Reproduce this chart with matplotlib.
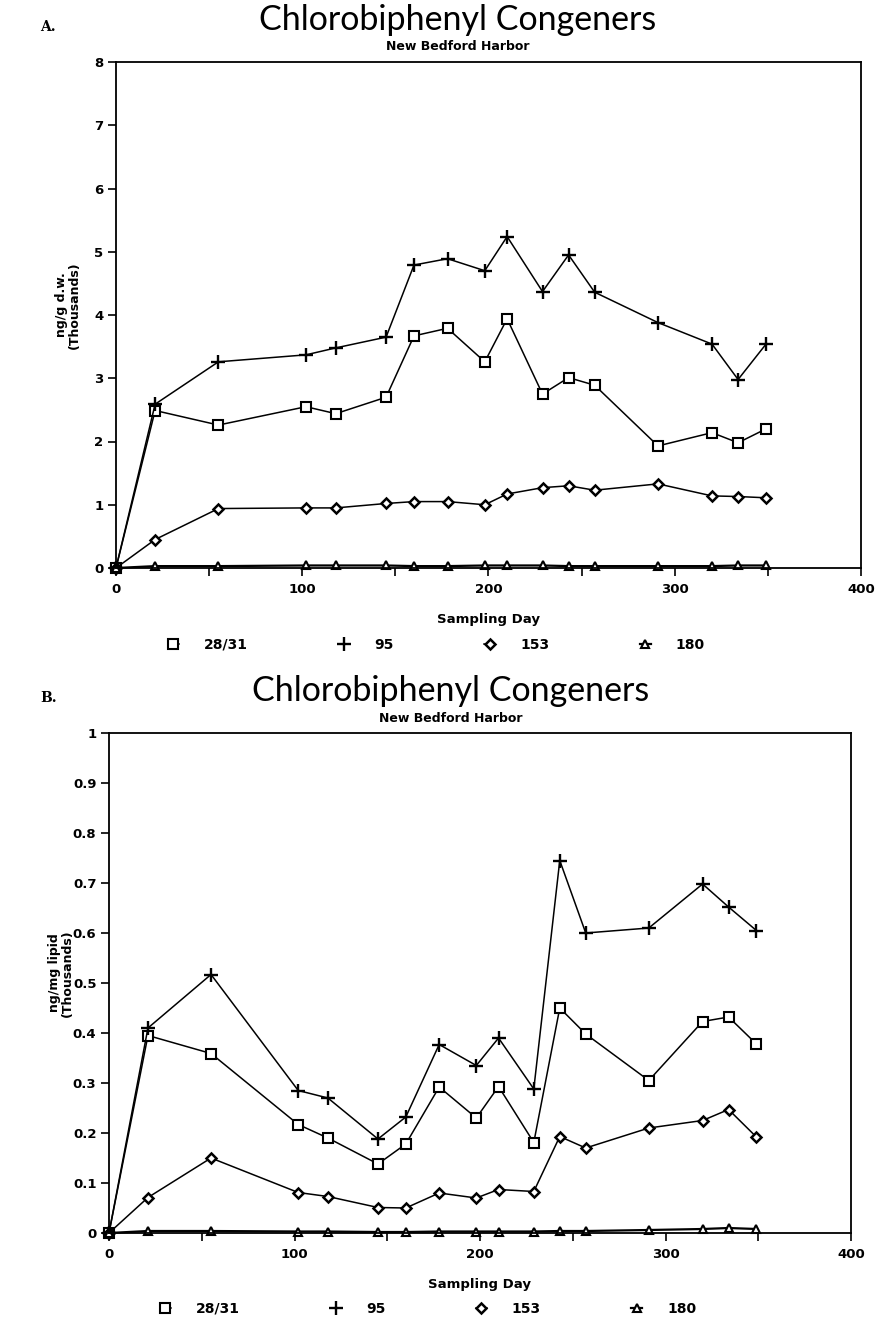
#!/usr/bin/env python3
"""
Chlorobiphenyl congener time series, New Bedford Harbor.

Two stacked panels:
  A. dry-weight concentration (ng/g d.w., thousands)
  B. lipid-normalised concentration (ng/mg lipid, thousands)
"""

import matplotlib
matplotlib.use("Agg")
import matplotlib.pyplot as plt
import matplotlib.ticker as mticker


# ── Data ──

SAMPLING_DAYS = [0, 21, 55, 102, 118, 145, 160, 178, 198, 210,
                 229, 243, 257, 291, 320, 334, 349]

CONGENERS = ["28/31", "95", "153", "180"]

# Panel A: ng/g d.w. (thousands)
A_28_31 = [0, 2.49, 2.26, 2.55, 2.44, 2.70, 3.67, 3.79, 3.26, 3.94,
           2.75, 3.01, 2.89, 1.93, 2.14, 1.98, 2.20]
A_95 = [0, 2.59, 3.26, 3.37, 3.48, 3.65, 4.79, 4.89, 4.70, 5.24,
        4.37, 4.95, 4.36, 3.88, 3.54, 2.98, 3.54]
A_153 = [0, 0.45, 0.94, 0.95, 0.95, 1.02, 1.05, 1.05, 1.00, 1.17,
         1.27, 1.30, 1.23, 1.33, 1.14, 1.13, 1.11]
A_180 = [0, 0.03, 0.03, 0.04, 0.04, 0.04, 0.03, 0.03, 0.04, 0.04,
         0.04, 0.03, 0.03, 0.03, 0.03, 0.04, 0.04]

# Panel B: ng/mg lipid (thousands)
B_28_31 = [0, 0.395, 0.359, 0.217, 0.190, 0.138, 0.178, 0.292, 0.230, 0.293,
           0.181, 0.450, 0.398, 0.305, 0.423, 0.432, 0.378]
B_95 = [0, 0.410, 0.517, 0.285, 0.270, 0.188, 0.232, 0.377, 0.335, 0.390,
        0.288, 0.745, 0.600, 0.610, 0.698, 0.652, 0.605]
B_153 = [0, 0.071, 0.150, 0.081, 0.073, 0.051, 0.050, 0.080, 0.070, 0.087,
         0.083, 0.193, 0.170, 0.210, 0.225, 0.247, 0.192]
B_180 = [0, 0.004, 0.004, 0.003, 0.003, 0.002, 0.002, 0.003, 0.003, 0.003,
         0.003, 0.004, 0.004, 0.006, 0.008, 0.010, 0.008]

A_YTICKS = [0, 1, 2, 3, 4, 5, 6, 7, 8]
B_YTICKS = [0, 0.1, 0.2, 0.3, 0.4, 0.5, 0.6, 0.7, 0.8, 0.9, 1.0]
X_TICKS = [0, 100, 200, 300, 400]


# ── Style ──

MARKERS = {
    "28/31": dict(marker="s", ms=7, mfc="white", mew=1.5),
    "95":    dict(marker="+", ms=10, mew=1.7),
    "153":   dict(marker="D", ms=5, mfc="white", mew=1.8),
    "180":   dict(marker="^", ms=6, mfc="white", mew=1.5),
}
TITLE_FONT = dict(family=["Lato", "DejaVu Sans"], weight="normal", color="black")
TICK_FONT = dict(family="DejaVu Sans", weight="bold", size=9.5)

FIG_W, FIG_H = 878, 1323


def px_x(x):
    return x / FIG_W


def px_y(y):
    return 1 - y / FIG_H


def draw_panel(fig, rect, series, yticks, ylabel, letter, top_px, title_cx):
    ax = fig.add_axes(rect)
    for name, values in zip(CONGENERS, series):
        lw = 1.6 if name == "180" else 1.1
        ax.plot(SAMPLING_DAYS, values, color="black", lw=lw,
                mec="black", clip_on=False, label=name, **MARKERS[name])

    ax.set_xlim(0, 400)
    ax.set_ylim(yticks[0], yticks[-1])
    ax.set_xticks(X_TICKS)
    ax.xaxis.set_minor_locator(mticker.MultipleLocator(50))
    ax.set_yticks(yticks)
    ax.yaxis.set_major_formatter(mticker.FuncFormatter(lambda v, _: f"{v:g}"))
    ax.tick_params(which="both", direction="out", length=6, width=1.2, pad=3)
    ax.tick_params(axis="x", which="major", pad=5)
    for lab in ax.get_xticklabels() + ax.get_yticklabels():
        lab.set_fontproperties(TICK_FONT)
    for sp in ax.spines.values():
        sp.set_linewidth(1.3)

    ax.set_xlabel("Sampling Day", fontsize=9.5, weight="bold", labelpad=12)
    ax.set_ylabel(ylabel, fontsize=9, weight="bold", linespacing=1.0)
    ax.yaxis.set_label_coords(-0.047, 0.52)

    ax.legend(loc="center", bbox_to_anchor=(0.43, -0.152), ncol=4,
              frameon=False, handlelength=0.8, handletextpad=1.8,
              columnspacing=6.5, prop=dict(weight="bold", size=10))

    fig.text(px_x(title_cx), px_y(top_px - 42), "Chlorobiphenyl Congeners",
             ha="center", va="center", fontsize=24.5, **TITLE_FONT)
    fig.text(px_x(title_cx), px_y(top_px - 15), "New Bedford Harbor",
             ha="center", va="center", fontsize=9, weight="bold")
    fig.text(px_x(40), px_y(top_px - 35), letter, ha="left", va="center",
             fontsize=10, weight="bold", family="DejaVu Serif")
    return ax


def main():
    fig = plt.figure(figsize=(FIG_W / 100, FIG_H / 100), dpi=100)

    # panel A: x 116..861 px, y 62..568 px
    rect_a = [px_x(116), px_y(568), px_x(861 - 116), (568 - 62) / FIG_H]
    draw_panel(fig, rect_a, [A_28_31, A_95, A_153, A_180], A_YTICKS,
               "ng/g d.w.\n(Thousands)", "A.", 62, 458)

    # panel B: x 109..851 px, y 733..1233 px
    rect_b = [px_x(109), px_y(1233), px_x(851 - 109), (1233 - 733) / FIG_H]
    draw_panel(fig, rect_b, [B_28_31, B_95, B_153, B_180], B_YTICKS,
               "ng/mg lipid\n(Thousands)", "B.", 733, 451)

    fig.savefig("out.png", dpi=100)
    plt.close(fig)


if __name__ == "__main__":
    main()
